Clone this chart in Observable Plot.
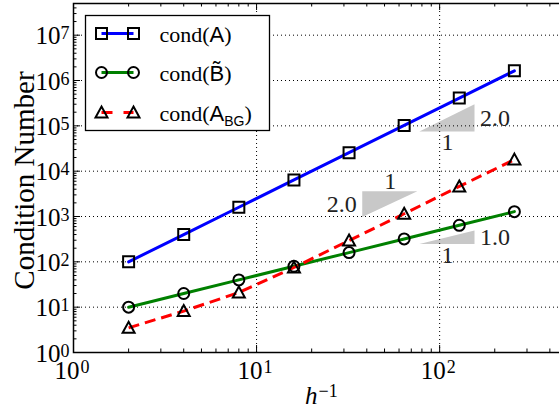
<!DOCTYPE html>
<html><head><meta charset="utf-8">
<script src="https://cdn.jsdelivr.net/npm/d3@7"></script>
<script src="https://cdn.jsdelivr.net/npm/@observablehq/plot@0.6"></script>
<style>body{margin:0;}</style></head><body><div id="chart"></div>
<script>
// ---- data ----
const hInv    = [2, 4, 8, 16, 32, 64, 128, 256];
const condA   = [100, 400, 1600, 6400, 25600, 102400, 409600, 1638400];
const condB   = [10, 20, 40, 80, 160, 320, 640, 1280];
const condABG = [3.5, 8.2, 21, 75, 295, 1150, 4600, 18000];
const xMajor = [1, 10, 100];
const xExp   = ["0", "1", "2"];
const yMajor = [1, 10, 100, 1e3, 1e4, 1e5, 1e6, 1e7];
const yExp   = ["0", "1", "2", "3", "4", "5", "6", "7"];
const legendLabels = ["cond(A)", "cond(B~)", "cond(ABG)"];
// slope triangles: xa..xb, ya..yb, rise label, run label, flipped (right angle top-left)
const slopes = [
  {id: "A",   xa: 78, xb: 156, ya: 7.3e4, yb: 2.92e5, rise: "2.0", run: "1", flip: false},
  {id: "ABG", xa: 38, xb: 76,  ya: 950,   yb: 3500,   rise: "2.0", run: "1", flip: true},
  {id: "B",   xa: 78, xb: 156, ya: 240,   yb: 480,    rise: "1.0", run: "1", flip: false}
];

// ---- layout / style ----
const SERIF = "Liberation Serif", SANS = "Liberation Sans";
const W = 559, H = 409, mL = 73, mT = 3, mR = -10, mB = 57;
const plotW = W - mR - mL, plotH = H - mT - mB;

const rows = (ys) => hInv.map((x, i) => ({x, y: ys[i]}));
const rowsA = rows(condA), rowsB = rows(condB), rowsG = rows(condABG);

const triRows = slopes.flatMap(s => s.flip
  ? [{id: s.id, x: s.xa, y1: s.ya, y2: s.yb}, {id: s.id, x: s.xb, y1: s.yb, y2: s.yb}]
  : [{id: s.id, x: s.xa, y1: s.ya, y2: s.ya}, {id: s.id, x: s.xb, y1: s.ya, y2: s.yb}]);

const minor = (maxV, kmax) => { const out = []; for (let k = 0; k <= kmax; k++) for (let m = 2; m <= 9; m++) { const v = m * 10 ** k; if (v < maxV) out.push(v); } return out; };
const xMinor = minor(512, 2), yMinor = minor(5e7, 7);

const sqSym = {draw(c) { c.moveTo(-5.5, -5.5); c.lineTo(5.5, -5.5); c.lineTo(5.5, 5.5); c.lineTo(-5.5, 5.5); c.closePath(); }};
const ciSym = {draw(c) { c.moveTo(5.5, 0); c.arc(0, 0, 5.5, 0, 2 * Math.PI); c.closePath(); }};
const trSym = {draw(c) { c.moveTo(0, -6); c.lineTo(6, 5); c.lineTo(-6, 5); c.closePath(); }};
const segSym = {draw(c) { c.moveTo(-16, 0); c.lineTo(16, 0); }};

const markerStyle = {fill: "none", stroke: "black", strokeWidth: 2, strokeLinejoin: "miter"};
const series = [
  {rows: rowsA, color: "#0000ff", sym: sqSym, dash: null},
  {rows: rowsB, color: "#008000", sym: ciSym, dash: null},
  {rows: rowsG, color: "#ff0000", sym: trSym, dash: "11,6"}
];
const grid = {stroke: "black", strokeWidth: 1, strokeDasharray: "1,3"};
const T = {fontFamily: SERIF, fill: "black"};
const slopeText = {fontFamily: SERIF, fontSize: 24, fill: "#222"};

const marks = [
  Plot.areaY(triRows, {x: "x", y1: "y1", y2: "y2", z: "id", fill: "#c8c8c8"}),
  Plot.ruleX(xMajor.slice(1), {x: d => d, ...grid}),
  Plot.ruleY(yMajor.slice(1), {y: d => d, ...grid}),
  ...series.map(s => Plot.line(s.rows, {x: "x", y: "y", stroke: s.color, strokeWidth: 3,
      strokeDasharray: s.dash, strokeLinecap: s.dash ? "butt" : "round"})),
  ...series.map(s => Plot.dot(s.rows, {x: "x", y: "y", symbol: s.sym, ...markerStyle})),
  Plot.frame({stroke: "black", strokeWidth: 1.5}),
  // ticks (inward)
  Plot.ruleX(xMajor, {x: d => d, insetTop: plotH - 7, stroke: "black"}),
  Plot.ruleX(xMajor, {x: d => d, insetBottom: plotH - 7, stroke: "black"}),
  Plot.ruleX(xMinor, {x: d => d, insetTop: plotH - 3.5, stroke: "black"}),
  Plot.ruleX(xMinor, {x: d => d, insetBottom: plotH - 3.5, stroke: "black"}),
  Plot.ruleY(yMajor, {y: d => d, insetRight: plotW - 7, stroke: "black"}),
  Plot.ruleY(yMinor, {y: d => d, insetRight: plotW - 3.5, stroke: "black"}),
  // tick labels
  Plot.text(yMajor, {y: d => d, text: () => "10", frameAnchor: "left", dx: -13, dy: 9, textAnchor: "end", lineAnchor: "bottom", fontSize: 25, ...T}),
  Plot.text(yMajor, {y: d => d, text: (d, i) => yExp[i], frameAnchor: "left", dx: -4, dy: 4, textAnchor: "end", lineAnchor: "bottom", fontSize: 18, ...T}),
  Plot.text(xMajor, {x: d => d, text: () => "10", frameAnchor: "bottom", dx: 6, dy: 26, textAnchor: "end", lineAnchor: "bottom", fontSize: 25, ...T}),
  Plot.text(xMajor, {x: d => d, text: (d, i) => xExp[i], frameAnchor: "bottom", dx: 7, dy: 20, textAnchor: "start", lineAnchor: "bottom", fontSize: 18, ...T}),
  // axis titles
  Plot.text(["Condition Number"], {text: d => d, frameAnchor: "left", dx: -49, dy: 2.5, rotate: -90, textAnchor: "middle", lineAnchor: "middle", fontSize: 29, ...T}),
  Plot.text(["h"], {text: d => d, frameAnchor: "bottom", dx: -4, dy: 51, textAnchor: "end", lineAnchor: "bottom", fontStyle: "italic", fontSize: 25, ...T}),
  Plot.text(["\u22121"], {text: d => d, frameAnchor: "bottom", dx: -3, dy: 44, textAnchor: "start", lineAnchor: "bottom", fontSize: 18, ...T}),
  // slope labels
  Plot.text(slopes.filter(s => !s.flip), {x: "xb", y: s => Math.sqrt(s.ya * s.yb), text: "rise", dx: 5, textAnchor: "start", lineAnchor: "middle", ...slopeText}),
  Plot.text(slopes.filter(s => !s.flip), {x: s => Math.sqrt(s.xa * s.xb), y: "ya", text: "run", dy: 1, lineAnchor: "top", ...slopeText}),
  Plot.text(slopes.filter(s => s.flip), {x: "xa", y: s => Math.sqrt(s.ya * s.yb), text: "rise", dx: -6, textAnchor: "end", lineAnchor: "middle", ...slopeText}),
  Plot.text(slopes.filter(s => s.flip), {x: s => Math.sqrt(s.xa * s.xb), y: "yb", text: "run", dy: -3, lineAnchor: "bottom", ...slopeText}),
  // legend
  Plot.frame({fill: "white", stroke: "black", strokeWidth: 1.3, insetLeft: 12, insetTop: 12, insetRight: W - mR - 269, insetBottom: H - mB - 130})
];
const legendDy = [30, 69, 109];
series.forEach((s, i) => {
  marks.push(Plot.dot([0], {frameAnchor: "top-left", dx: 44, dy: legendDy[i], symbol: segSym, fill: "none", stroke: s.color, strokeWidth: 3,
    strokeDasharray: s.dash ? "11,11" : null, strokeLinecap: "butt"}));
  marks.push(Plot.dot([0], {frameAnchor: "top-left", dx: 28, dy: legendDy[i], symbol: s.sym, ...markerStyle}));
  marks.push(Plot.dot([0], {frameAnchor: "top-left", dx: 60, dy: legendDy[i], symbol: s.sym, ...markerStyle}));
  marks.push(Plot.text([legendLabels[i]], {text: d => d, frameAnchor: "top-left", dx: 86, dy: legendDy[i] + 8, textAnchor: "start", lineAnchor: "bottom", fontSize: 22, ...T}));
});

const chart = Plot.plot({
  width: W, height: H,
  marginLeft: mL, marginTop: mT, marginRight: mR, marginBottom: mB,
  x: {type: "log", domain: [1, 512], axis: null},
  y: {type: "log", domain: [1, 5e7], axis: null},
  marks
});

// rich legend text (mathsf letters, tilde, subscript)
const NS = "http://www.w3.org/2000/svg";
chart.querySelectorAll("text").forEach(t => {
  const s = t.textContent;
  if (!legendLabels.includes(s)) return;
  while (t.firstChild) t.removeChild(t.firstChild);
  const add = (txt, attrs = {}) => {
    const ts = document.createElementNS(NS, "tspan");
    ts.textContent = txt;
    for (const k in attrs) ts.setAttribute(k, attrs[k]);
    t.appendChild(ts);
  };
  add("cond(");
  if (s === "cond(A)") add("A", {"font-family": SANS});
  else if (s === "cond(B~)") add("B\u0303", {"font-family": SANS});
  else { add("A", {"font-family": SANS}); add("BG", {"font-family": SANS, "font-size": 14, dy: 5}); add(")", {dy: -5}); return; }
  add(")");
});
document.getElementById("chart").appendChild(chart);
</script></body></html>
